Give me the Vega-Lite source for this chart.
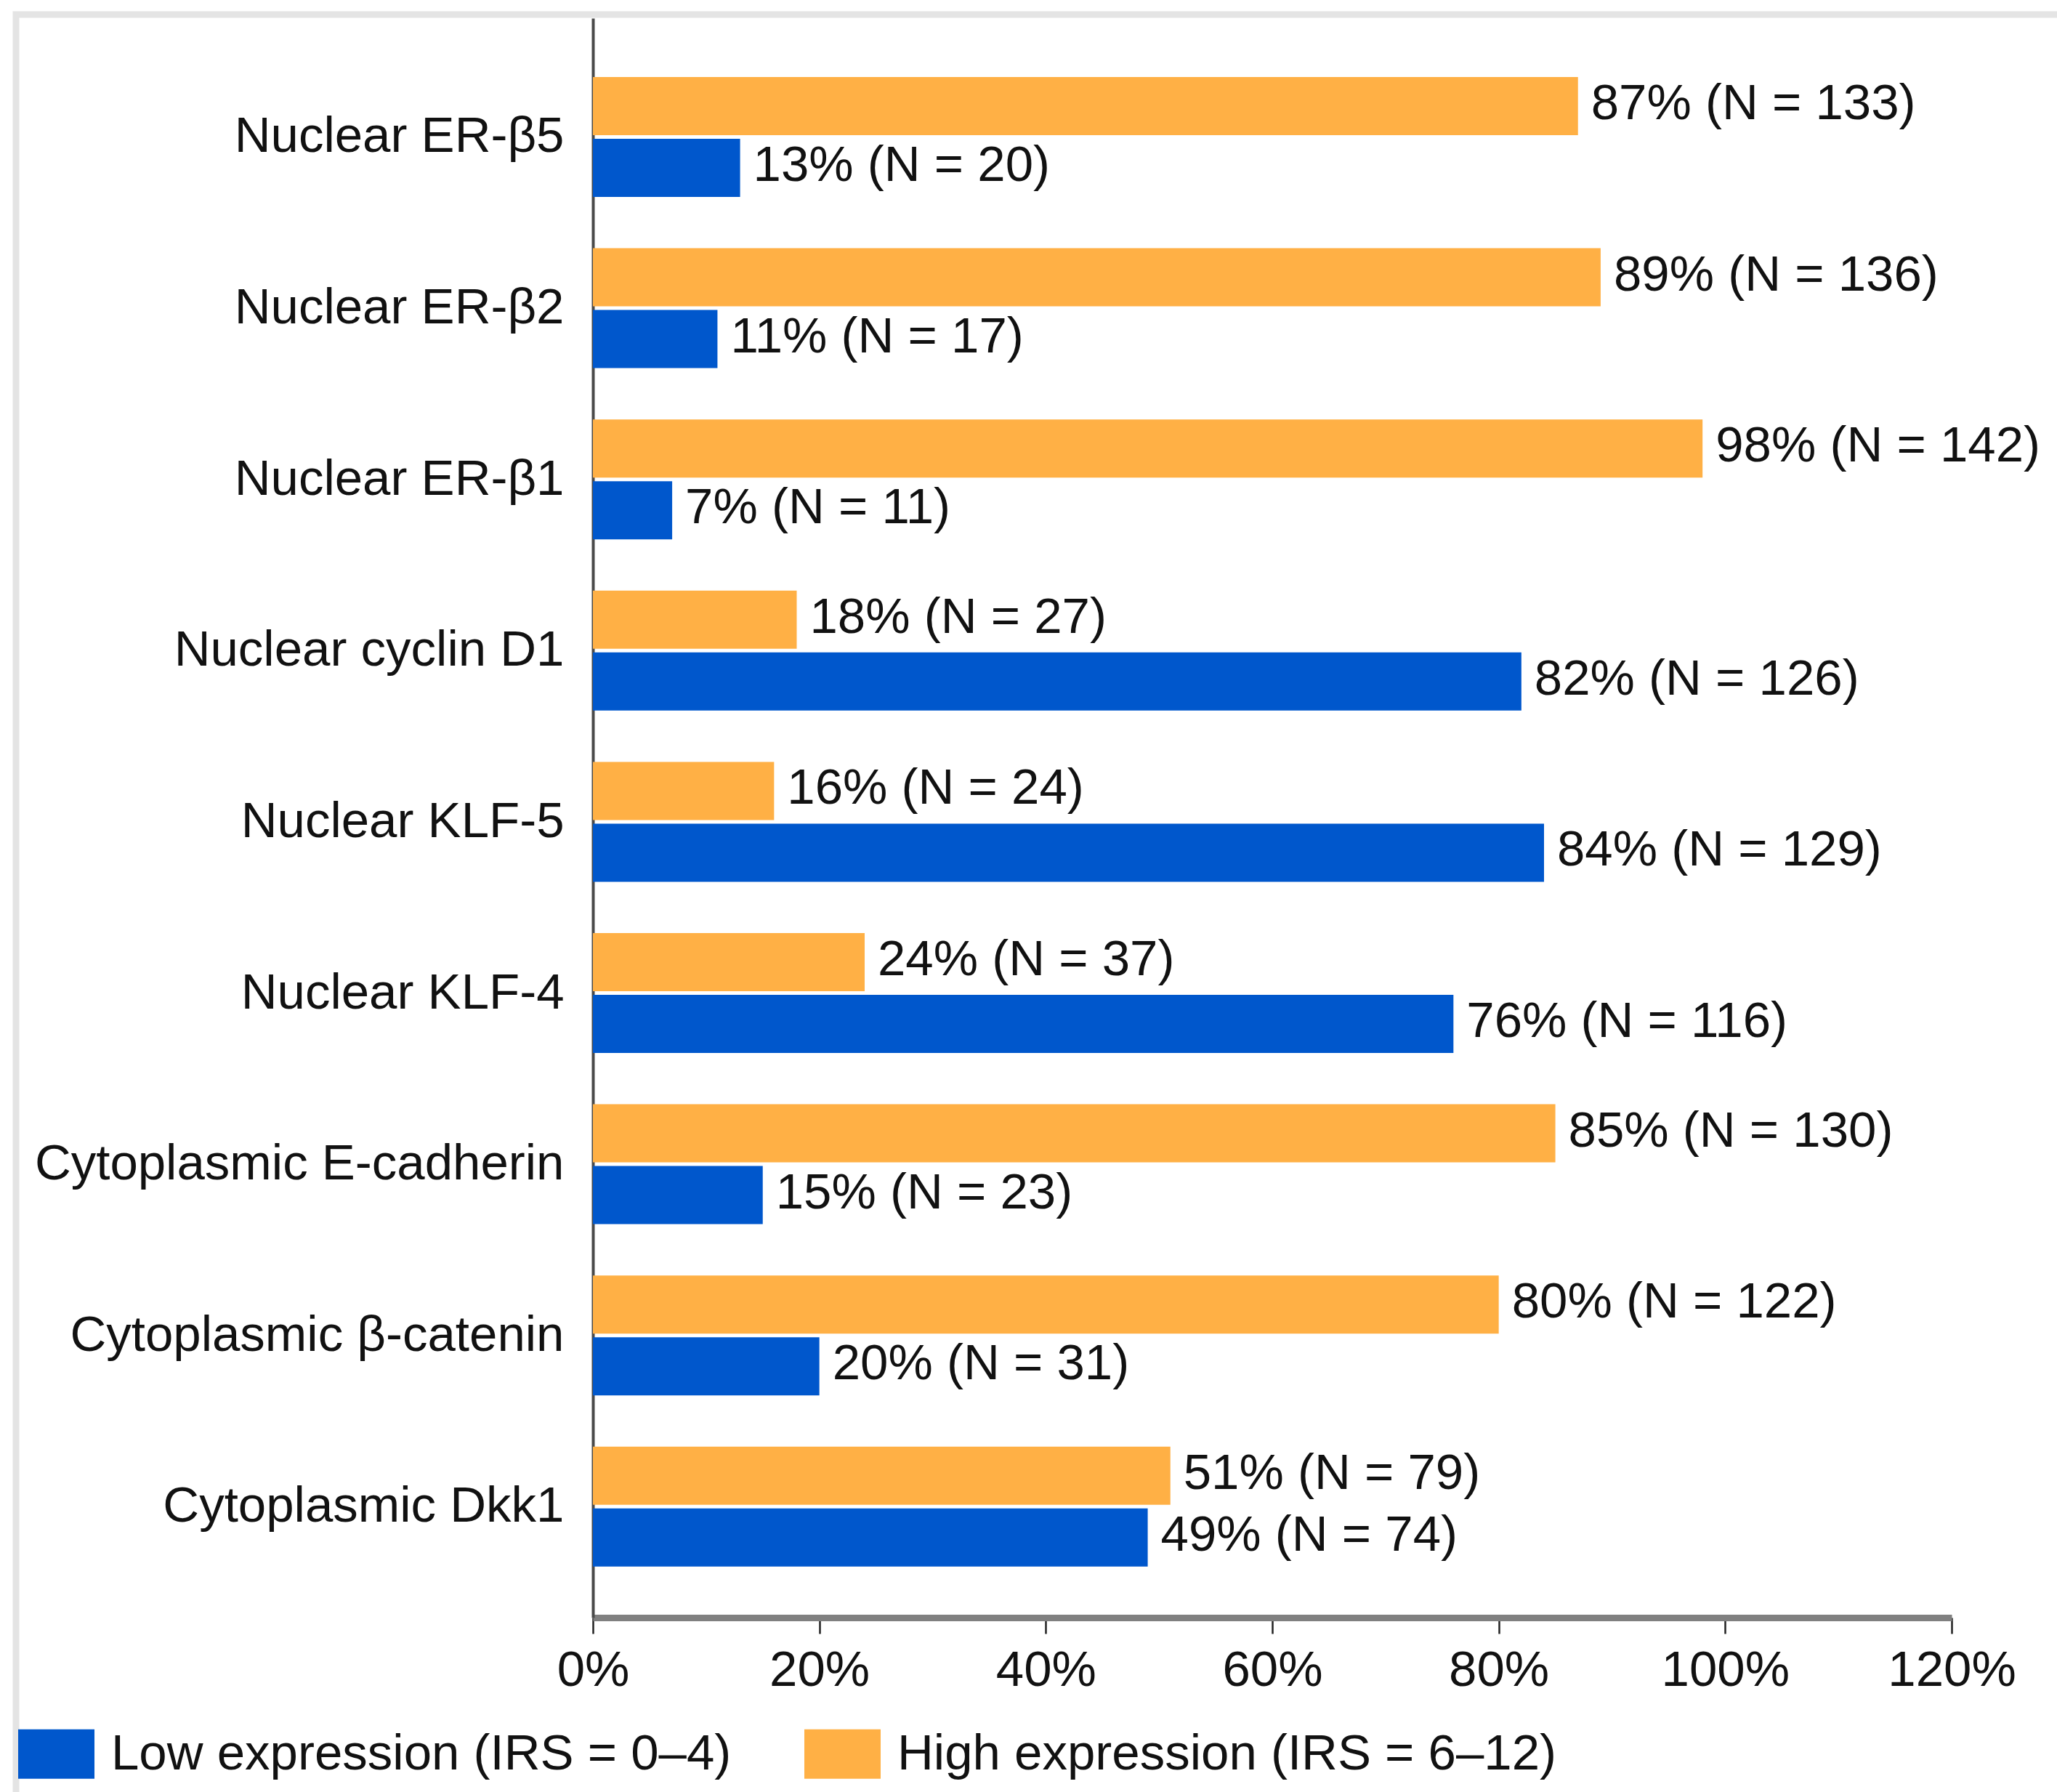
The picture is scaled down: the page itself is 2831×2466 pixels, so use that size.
{
  "$schema": "https://vega.github.io/schema/vega-lite/v6.json",
  "width": 2819,
  "height": 2456,
  "autosize": {"type": "none"},
  "padding": {"left": 22, "top": 20, "right": -10, "bottom": -10},
  "background": "white",
  "config": {
    "font": "Liberation Sans",
    "view": {"stroke": "#e4e4e4", "strokeWidth": 9}
  },
  "data": {
    "values": [
      {"marker": "Nuclear ER-β5", "expression": "High expression (IRS = 6–12)", "pct": 87, "label": "87% (N = 133)"},
      {"marker": "Nuclear ER-β5", "expression": "Low expression (IRS = 0–4)", "pct": 13, "label": "13% (N = 20)"},
      {"marker": "Nuclear ER-β2", "expression": "High expression (IRS = 6–12)", "pct": 89, "label": "89% (N = 136)"},
      {"marker": "Nuclear ER-β2", "expression": "Low expression (IRS = 0–4)", "pct": 11, "label": "11% (N = 17)"},
      {"marker": "Nuclear ER-β1", "expression": "High expression (IRS = 6–12)", "pct": 98, "label": "98% (N = 142)"},
      {"marker": "Nuclear ER-β1", "expression": "Low expression (IRS = 0–4)", "pct": 7, "label": "7% (N = 11)"},
      {"marker": "Nuclear cyclin D1", "expression": "High expression (IRS = 6–12)", "pct": 18, "label": "18% (N = 27)"},
      {"marker": "Nuclear cyclin D1", "expression": "Low expression (IRS = 0–4)", "pct": 82, "label": "82% (N = 126)"},
      {"marker": "Nuclear KLF-5", "expression": "High expression (IRS = 6–12)", "pct": 16, "label": "16% (N = 24)"},
      {"marker": "Nuclear KLF-5", "expression": "Low expression (IRS = 0–4)", "pct": 84, "label": "84% (N = 129)"},
      {"marker": "Nuclear KLF-4", "expression": "High expression (IRS = 6–12)", "pct": 24, "label": "24% (N = 37)"},
      {"marker": "Nuclear KLF-4", "expression": "Low expression (IRS = 0–4)", "pct": 76, "label": "76% (N = 116)"},
      {"marker": "Cytoplasmic E-cadherin", "expression": "High expression (IRS = 6–12)", "pct": 85, "label": "85% (N = 130)"},
      {"marker": "Cytoplasmic E-cadherin", "expression": "Low expression (IRS = 0–4)", "pct": 15, "label": "15% (N = 23)"},
      {"marker": "Cytoplasmic β-catenin", "expression": "High expression (IRS = 6–12)", "pct": 80, "label": "80% (N = 122)"},
      {"marker": "Cytoplasmic β-catenin", "expression": "Low expression (IRS = 0–4)", "pct": 20, "label": "20% (N = 31)"},
      {"marker": "Cytoplasmic Dkk1", "expression": "High expression (IRS = 6–12)", "pct": 51, "label": "51% (N = 79)"},
      {"marker": "Cytoplasmic Dkk1", "expression": "Low expression (IRS = 0–4)", "pct": 49, "label": "49% (N = 74)"}
    ]
  },
  "encoding": {
    "y": {
      "field": "marker",
      "type": "nominal",
      "sort": null,
      "scale": {"range": [5, 2206], "paddingInner": 0, "paddingOuter": 0.171, "align": 0.567},
      "axis": {
        "title": null,
        "orient": "left",
        "offset": -794,
        "domainColor": "#4a4a4a",
        "domainWidth": 4,
        "ticks": false,
        "grid": false,
        "labelFontSize": 69,
        "labelColor": "#111111",
        "labelPadding": 40,
        "labelLimit": 1200,
        "labelOffset": 0
      }
    },
    "yOffset": {
      "field": "expression",
      "type": "nominal",
      "scale": {
        "domain": ["High expression (IRS = 6–12)", "Low expression (IRS = 0–4)"],
        "paddingInner": 0.0588,
        "paddingOuter": 0.415
      }
    },
    "x": {
      "field": "pct",
      "type": "quantitative",
      "scale": {"domain": [0, 120], "range": [794, 2664], "nice": false},
      "axis": {
        "title": null,
        "orient": "bottom",
        "offset": -250,
        "values": [0, 20, 40, 60, 80, 100, 120],
        "labelExpr": "datum.value + '%'",
        "domainColor": "#808080",
        "domainWidth": 9,
        "tickColor": "#222222",
        "tickWidth": 2.5,
        "tickSize": 22,
        "grid": false,
        "labelFontSize": 69,
        "labelColor": "#111111",
        "labelPadding": 16,
        "labelFlush": false,
        "labelOverlap": false
      }
    }
  },
  "layer": [
    {
      "mark": {"type": "bar"},
      "encoding": {
        "color": {
          "field": "expression",
          "type": "nominal",
          "scale": {
            "domain": ["Low expression (IRS = 0–4)", "High expression (IRS = 6–12)"],
            "range": ["#0057cc", "#ffb045"]
          },
          "legend": {
            "title": null,
            "orient": "none",
            "legendX": 3,
            "legendY": 2341,
            "direction": "horizontal",
            "padding": 0,
            "symbolType": "M-1,-0.648L1,-0.648L1,0.648L-1,0.648Z",
            "symbolSize": 11025,
            "symbolStrokeWidth": 0,
            "symbolOpacity": 1,
            "labelFontSize": 69,
            "labelColor": "#111111",
            "labelOffset": 23,
            "labelLimit": 1500,
            "columnPadding": 100
          }
        }
      }
    },
    {
      "mark": {"type": "text", "align": "left", "baseline": "middle", "dx": 18, "dy": -3, "fontSize": 69, "color": "#111111"},
      "encoding": {"text": {"field": "label"}}
    }
  ]
}
